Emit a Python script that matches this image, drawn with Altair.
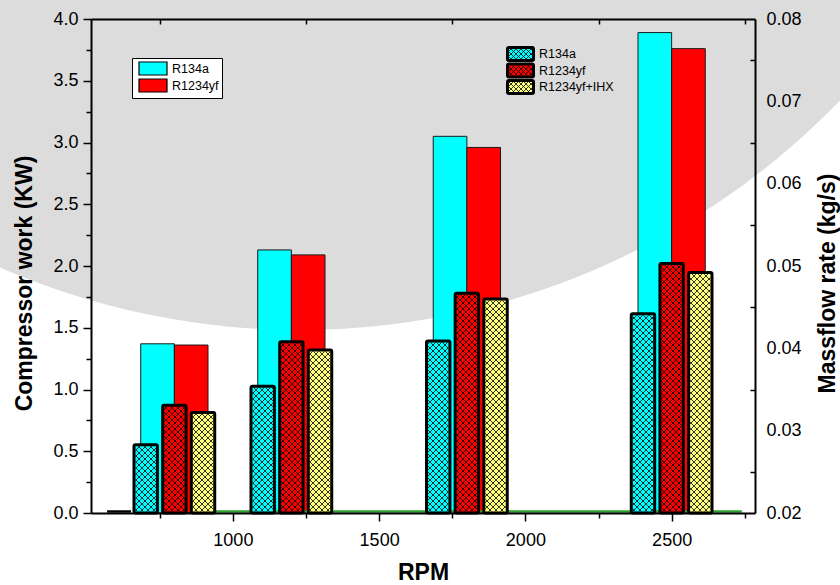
import altair as alt
import numpy as np
import pandas as pd

# ---------------- data ----------------
rpm = [800, 1200, 1800, 2500]

work_series = ["R134a", "R1234yf"]
work_r134a = [1.37, 2.13, 3.05, 3.89]
work_r1234yf = [1.36, 2.09, 2.96, 3.76]

mass_series = ["R134a", "R1234yf", "R1234yf+IHX"]
mass_r134a = [0.0283, 0.0354, 0.0409, 0.0442]
mass_r1234yf = [0.0331, 0.0408, 0.0467, 0.0503]
mass_r1234yf_ihx = [0.0322, 0.0398, 0.0460, 0.0492]

x_ticks = [1000, 1500, 2000, 2500]
x_minor = [750, 1250, 1750, 2250, 2750]
work_ticks = [0.0, 0.5, 1.0, 1.5, 2.0, 2.5, 3.0, 3.5, 4.0]
work_minor = [0.25, 0.75, 1.25, 1.75, 2.25, 2.75, 3.25, 3.75]
mass_ticks = [0.02, 0.03, 0.04, 0.05, 0.06, 0.07, 0.08]
mass_minor = [0.025, 0.035, 0.045, 0.055, 0.065, 0.075]

baseline_green = [925, 2740]
baseline_black = [570, 652]

# ---------------- layout / style ----------------
W, H = 664, 494
PL, PT = 91, 19
PR = 840 - PL - W
PB = 585 - PT - H
X_DOM = [515, 2785]
WORK_DOM = [0, 4]
MASS_DOM = [0.02, 0.08]
FONT = "Liberation Sans"

PLAIN_OFF = {"R134a": (-115, 0), "R1234yf": (0, 115)}
HATCH_CENTER = {"R134a": -98, "R1234yf": 0, "R1234yf+IHX": 98}
HATCH_HALF = 40
PLAIN_COLORS = ["#00FFFF", "#FF0000"]
HATCH_COLORS = ["#00FFFF", "#FF0000", "#FFFF80"]

# mass-flow legend block (pixels inside the plot area)
LEG2_X0, LEG2_X1, LEG2_TEXT_X = 416.5, 442.5, 448
LEG2_Y0, LEG2_Y1 = 28.5, 74.5
LEG2_PAD_INNER = 0.212

# ---------------- tables ----------------
work_vals = {"R134a": work_r134a, "R1234yf": work_r1234yf}
work_rows = []
for s in work_series:
    for r, v in zip(rpm, work_vals[s]):
        a, b = PLAIN_OFF[s]
        work_rows.append({"rpm": r, "series": s, "value": v,
                          "x0": r + a, "x1": r + b, "base": WORK_DOM[0]})
work_df = pd.DataFrame(work_rows)

mass_vals = {"R134a": mass_r134a, "R1234yf": mass_r1234yf,
             "R1234yf+IHX": mass_r1234yf_ihx}
mass_rows = []
for s in mass_series:
    for r, v in zip(rpm, mass_vals[s]):
        c = r + HATCH_CENTER[s]
        mass_rows.append({"rpm": r, "series": s, "value": v,
                          "hx0": c - HATCH_HALF, "hx1": c + HATCH_HALF,
                          "base": MASS_DOM[0]})
mass_df = pd.DataFrame(mass_rows)
leg2_df = pd.DataFrame({"series": mass_series})


def cross_hatch(X0, X1, Y0, Y1, step):
    """45-degree cross-hatch segments clipped to a pixel rectangle."""
    segs = []
    lo, hi = X0 - Y1, X1 - Y0
    for c in np.arange(np.floor(lo / step) * step, hi + step, step):
        a, b = max(X0, Y0 + c), min(X1, Y1 + c)
        if b - a > 0.3:
            segs.append((a, a - c, b, b - c))
    lo, hi = X0 + Y0, X1 + Y1
    for c in np.arange(np.floor(lo / step) * step, hi + step, step):
        a, b = max(X0, c - Y1), min(X1, c - Y0)
        if b - a > 0.3:
            segs.append((a, c - a, b, c - b))
    return segs


# cross-hatch inside the mass-flow bars (decoration derived from the bars)
kx = W / (X_DOM[1] - X_DOM[0])
ky = H / (MASS_DOM[1] - MASS_DOM[0])
INSET = 1.5
hatch = []
for _, row in mass_df.iterrows():
    X0 = (row.hx0 - X_DOM[0]) * kx + INSET
    X1 = (row.hx1 - X_DOM[0]) * kx - INSET
    Y1 = (row.value - MASS_DOM[0]) * ky - INSET
    for (a, b, c2, d) in cross_hatch(X0, X1, INSET, Y1, 6.0):
        hatch.append({"hx0": X_DOM[0] + a / kx, "hy0": MASS_DOM[0] + b / ky,
                      "hx1": X_DOM[0] + c2 / kx, "hy1": MASS_DOM[0] + d / ky})
hatch_df = pd.DataFrame(hatch)

# cross-hatch inside the legend swatches (pixel space of the plot area)
band_step = (LEG2_Y1 - LEG2_Y0) / (len(mass_series) - LEG2_PAD_INNER)
band_h = band_step * (1 - LEG2_PAD_INNER)
lh = []
for i in range(len(mass_series)):
    top = LEG2_Y0 + i * band_step
    for (a, b, c2, d) in cross_hatch(LEG2_X0 + INSET, LEG2_X1 - INSET,
                                     top + INSET, top + band_h - INSET, 5.0):
        lh.append({"px0": a, "py0": b, "px1": c2, "py1": d})
leg_hatch_df = pd.DataFrame(lh)

green_df = pd.DataFrame({"start": [baseline_green[0]], "end": [baseline_green[1]],
                         "level": [MASS_DOM[0]]})
black_df = pd.DataFrame({"start": [baseline_black[0]], "end": [baseline_black[1]],
                         "level": [MASS_DOM[0]]})

# ---------------- scales / axes ----------------
xs = alt.Scale(domain=X_DOM, nice=False, zero=False)
ws = alt.Scale(domain=WORK_DOM, nice=False, zero=False)
ms = alt.Scale(domain=MASS_DOM, nice=False, zero=False)
hatch_fill = alt.Scale(domain=mass_series, range=HATCH_COLORS)


def ax(orient, values, size, **kw):
    base = dict(orient=orient, values=values, tickSize=size, offset=0,
                labels=False, domain=False, grid=False, ticks=True,
                tickColor="black", tickWidth=1.5, zindex=1, title=None)
    base.update(kw)
    return alt.Axis(**base)


def inward(n):
    return alt.ExprRef(expr=str(-n))


RECT1 = "M-0.538,-1H3.769V1H-0.538Z"

# ---------------- watermark ----------------
one = pd.DataFrame({"k": [0]})
wm_disc = alt.Chart(one).mark_point(shape="circle", filled=True, fill="#dcdcdc",
                                    opacity=1, size=1500 * 1500, strokeWidth=0).encode(
    x=alt.value(209), y=alt.value(-439))

# ---------------- layer A: compressor work ----------------
plain = alt.Chart(work_df).mark_bar(stroke="#1a1a1a", strokeWidth=1).encode(
    x=alt.X("x0:Q", scale=xs,
            axis=ax("bottom", x_ticks, 8, labels=True, domain=True, domainWidth=2,
                    domainColor="black", labelFontSize=18, labelPadding=10, format="d",
                    title="RPM", titleFontSize=23, titleFontWeight="bold",
                    titleX=W / 2, titleY=59, titleBaseline="middle")),
    x2="x1:Q",
    y=alt.Y("value:Q", scale=ws,
            axis=ax("left", work_ticks, 8, labels=True, domain=True, domainWidth=2,
                    domainColor="black", labelFontSize=18, labelPadding=5,
                    format=".1f", title="Compressor work (KW)", titleFontSize=23,
                    titleFontWeight="bold", titleX=-67, titleY=264,
                    titleBaseline="middle", titleAngle=270)),
    y2="base:Q",
    fill=alt.Fill("series:N", sort=work_series,
                  scale=alt.Scale(domain=work_series, range=PLAIN_COLORS),
                  legend=alt.Legend(orient="none", legendX=41, legendY=39, title=None,
                                    direction="vertical", symbolType=RECT1,
                                    symbolSize=169, symbolStrokeColor="black",
                                    symbolStrokeWidth=1.2, labelFont=FONT,
                                    labelFontSize=12.5, labelColor="black",
                                    labelOffset=22, padding=3, rowPadding=-7.5,
                                    strokeColor="black", fillColor="white")),
)

# ---------------- layer B: mass flow rate ----------------
hatched = alt.Chart(mass_df).mark_bar(stroke="black", strokeWidth=3, cornerRadius=1.5).encode(
    x=alt.X("hx0:Q", scale=xs, axis=ax("top", x_ticks, inward(8))),
    x2="hx1:Q",
    y=alt.Y("value:Q", scale=ms, axis=ax("right", mass_ticks, inward(8))),
    y2="base:Q",
    fill=alt.Fill("series:N", scale=hatch_fill, legend=None),
)
hatch_lines = alt.Chart(hatch_df).mark_rule(color="black", strokeWidth=0.8).encode(
    x=alt.X("hx0:Q", scale=xs, axis=None), x2="hx1:Q",
    y=alt.Y("hy0:Q", scale=ms, axis=None), y2="hy1:Q")
green = alt.Chart(green_df).mark_rule(color="#2ca02c", strokeWidth=2.5, yOffset=-1.5).encode(
    x=alt.X("start:Q", scale=xs, axis=None), x2="end:Q",
    y=alt.Y("level:Q", scale=ms, axis=None))
blackseg = alt.Chart(black_df).mark_rule(color="black", strokeWidth=2.5, yOffset=-1.5).encode(
    x=alt.X("start:Q", scale=xs, axis=None), x2="end:Q",
    y=alt.Y("level:Q", scale=ms, axis=None))
layer_b = alt.layer(green, blackseg, hatched, hatch_lines)

# ---------------- legend for the mass-flow bars ----------------
leg2_y = alt.Y("series:N", sort=mass_series, axis=None,
               scale=alt.Scale(domain=mass_series, range=[LEG2_Y0, LEG2_Y1],
                               paddingInner=LEG2_PAD_INNER, paddingOuter=0))
leg2_sw = alt.Chart(leg2_df).mark_rect(stroke="black", strokeWidth=3, cornerRadius=1.5).encode(
    x=alt.value(LEG2_X0), x2=alt.value(LEG2_X1), y=leg2_y,
    fill=alt.Fill("series:N", scale=hatch_fill, legend=None))
leg2_tx = alt.Chart(leg2_df).mark_text(align="left", baseline="middle", font=FONT,
                                       fontSize=12.5, color="black").encode(
    x=alt.value(LEG2_TEXT_X), y=leg2_y, text="series:N")
leg2 = alt.layer(leg2_sw, leg2_tx)
leg2_hatch = alt.Chart(leg_hatch_df).mark_rule(color="black", strokeWidth=0.8).encode(
    x=alt.X("px0:Q", scale=alt.Scale(domain=[0, W], range=[0, W]), axis=None),
    x2="px1:Q",
    y=alt.Y("py0:Q", scale=alt.Scale(domain=[0, H], range=[0, H]), axis=None),
    y2="py1:Q")

# ---------------- minor ticks and frame ----------------
minor_bl = alt.Chart(work_df).mark_point(opacity=0).encode(
    x=alt.X("x0:Q", scale=xs, axis=ax("bottom", x_minor, 5)),
    y=alt.Y("value:Q", scale=ws, axis=ax("left", work_minor, 5)))
minor_tr = alt.Chart(mass_df).mark_point(opacity=0).encode(
    x=alt.X("hx0:Q", scale=xs, axis=ax("top", x_minor, inward(5))),
    y=alt.Y("value:Q", scale=ms, axis=ax("right", mass_minor, inward(5))))
frame_tr = alt.Chart(mass_df).mark_point(opacity=0).encode(
    x=alt.X("hx0:Q", scale=xs, axis=ax("top", x_ticks, 0, ticks=False, domain=True,
                                      domainWidth=2, domainColor="black")),
    y=alt.Y("value:Q", scale=ms,
            axis=ax("right", mass_ticks, 0, ticks=False, domain=True, domainWidth=2,
                    domainColor="black", labels=True, labelFontSize=18,
                    labelPadding=11, format=".2f", title="Massflow rate (kg/s)",
                    titleFontSize=23, titleFontWeight="bold", titleX=72, titleY=264,
                    titleBaseline="middle", titleAngle=270)))

chart = alt.layer(wm_disc, plain, layer_b, leg2, leg2_hatch,
                  minor_bl, minor_tr, frame_tr).resolve_scale(
    x="independent", y="independent", fill="independent"
).properties(
    width=W, height=H,
    autosize=alt.AutoSizeParams(type="none"),
    padding={"left": PL, "top": PT, "right": PR, "bottom": PB},
    background="white",
).configure_view(stroke="transparent").configure_axis(
    labelFont=FONT, titleFont=FONT, labelColor="black", titleColor="black")

chart.save("out.html", embed_options={"renderer": "svg", "actions": False})
